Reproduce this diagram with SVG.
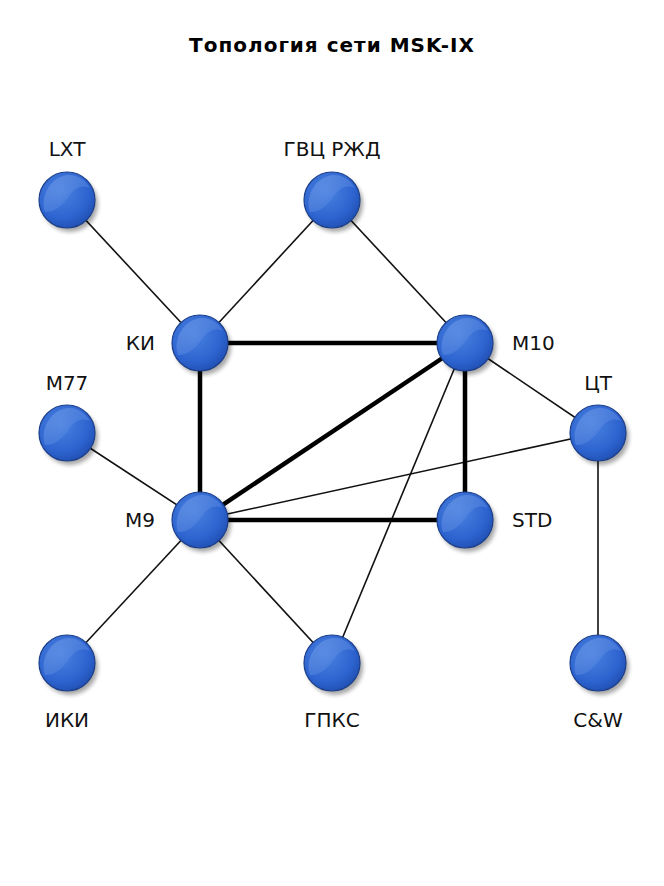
<svg xmlns="http://www.w3.org/2000/svg" width="664" height="886" viewBox="0 0 664 886">
<style>
.lbl{font-family:"DejaVu Sans","Liberation Sans",sans-serif;font-size:20px;fill:#111}
.title{font-family:"DejaVu Sans","Liberation Sans",sans-serif;font-size:20px;font-weight:bold;fill:#000;letter-spacing:1px}
.thin{stroke:#111;stroke-width:1.6;fill:none}
.thick{stroke:#000;stroke-width:4.5;fill:none}
.ball{fill:url(#g);stroke:#1c3f8a;stroke-width:1.2}
.shadow{fill:#000;opacity:0.35;filter:url(#blur)}
.hl{fill:url(#g2);opacity:0.5}
</style>
<defs>
<radialGradient id="g" cx="0.4" cy="0.35" r="0.7">
<stop offset="0" stop-color="#4a82e0"/>
<stop offset="0.7" stop-color="#2d63cf"/>
<stop offset="1" stop-color="#1f4eb0"/>
</radialGradient>
<linearGradient id="g2" x1="0" y1="0" x2="1" y2="1">
<stop offset="0" stop-color="#7fa8ee"/>
<stop offset="1" stop-color="#3f74d8"/>
</linearGradient>
<filter id="blur" x="-50%" y="-50%" width="200%" height="200%"><feGaussianBlur stdDeviation="2"/></filter>
<g id="node">
<circle class="shadow" cx="3" cy="4" r="28"/>
<circle class="ball" cx="0" cy="0" r="28"/>
<path class="hl" d="M-22,12 C-27,-2 -18,-22 0,-25 C12,-26 20,-18 23,-12 C14,-16 8,-12 2,-4 C-4,4 -10,12 -22,12 Z"/>
</g>
</defs>
<rect width="664" height="886" fill="#fff"/>
<text class="title" x="332" y="52" text-anchor="middle">Топология сети MSK-IX</text>
<g id="connectors">
<line class="thin" x1="67" y1="200" x2="200" y2="343"/>
<line class="thin" x1="332" y1="200" x2="200" y2="343"/>
<line class="thin" x1="332" y1="200" x2="465" y2="343"/>
<line class="thin" x1="465" y1="343" x2="598" y2="433"/>
<line class="thin" x1="67" y1="433" x2="200" y2="520"/>
<line class="thin" x1="200" y1="520" x2="598" y2="433"/>
<line class="thin" x1="465" y1="343" x2="332" y2="663"/>
<line class="thin" x1="200" y1="520" x2="67" y2="663"/>
<line class="thin" x1="200" y1="520" x2="332" y2="663"/>
<line class="thin" x1="598" y1="433" x2="598" y2="663"/>
<line class="thick" x1="200" y1="343" x2="465" y2="343"/>
<line class="thick" x1="200" y1="343" x2="200" y2="520"/>
<line class="thick" x1="465" y1="343" x2="465" y2="520"/>
<line class="thick" x1="200" y1="520" x2="465" y2="520"/>
<line class="thick" x1="200" y1="520" x2="465" y2="343"/>
</g>
<g id="n-lxt"><use href="#node" x="67" y="200"/><text class="lbl" x="67" y="156" text-anchor="middle">LXT</text></g>
<g id="n-gvc"><use href="#node" x="332" y="200"/><text class="lbl" x="332" y="156" text-anchor="middle">ГВЦ РЖД</text></g>
<g id="n-ki"><use href="#node" x="200" y="343"/><text class="lbl" x="155" y="350" text-anchor="end">КИ</text></g>
<g id="n-m10"><use href="#node" x="465" y="343"/><text class="lbl" x="512" y="350">M10</text></g>
<g id="n-m77"><use href="#node" x="67" y="433"/><text class="lbl" x="67" y="390" text-anchor="middle">M77</text></g>
<g id="n-ct"><use href="#node" x="598" y="433"/><text class="lbl" x="598" y="390" text-anchor="middle">ЦТ</text></g>
<g id="n-m9"><use href="#node" x="200" y="520"/><text class="lbl" x="155" y="527" text-anchor="end">M9</text></g>
<g id="n-std"><use href="#node" x="465" y="520"/><text class="lbl" x="512" y="527">STD</text></g>
<g id="n-iki"><use href="#node" x="67" y="663"/><text class="lbl" x="67" y="727" text-anchor="middle">ИКИ</text></g>
<g id="n-gpks"><use href="#node" x="332" y="663"/><text class="lbl" x="332" y="727" text-anchor="middle">ГПКС</text></g>
<g id="n-cw"><use href="#node" x="598" y="663"/><text class="lbl" x="598" y="727" text-anchor="middle">C&amp;W</text></g>
</svg>
